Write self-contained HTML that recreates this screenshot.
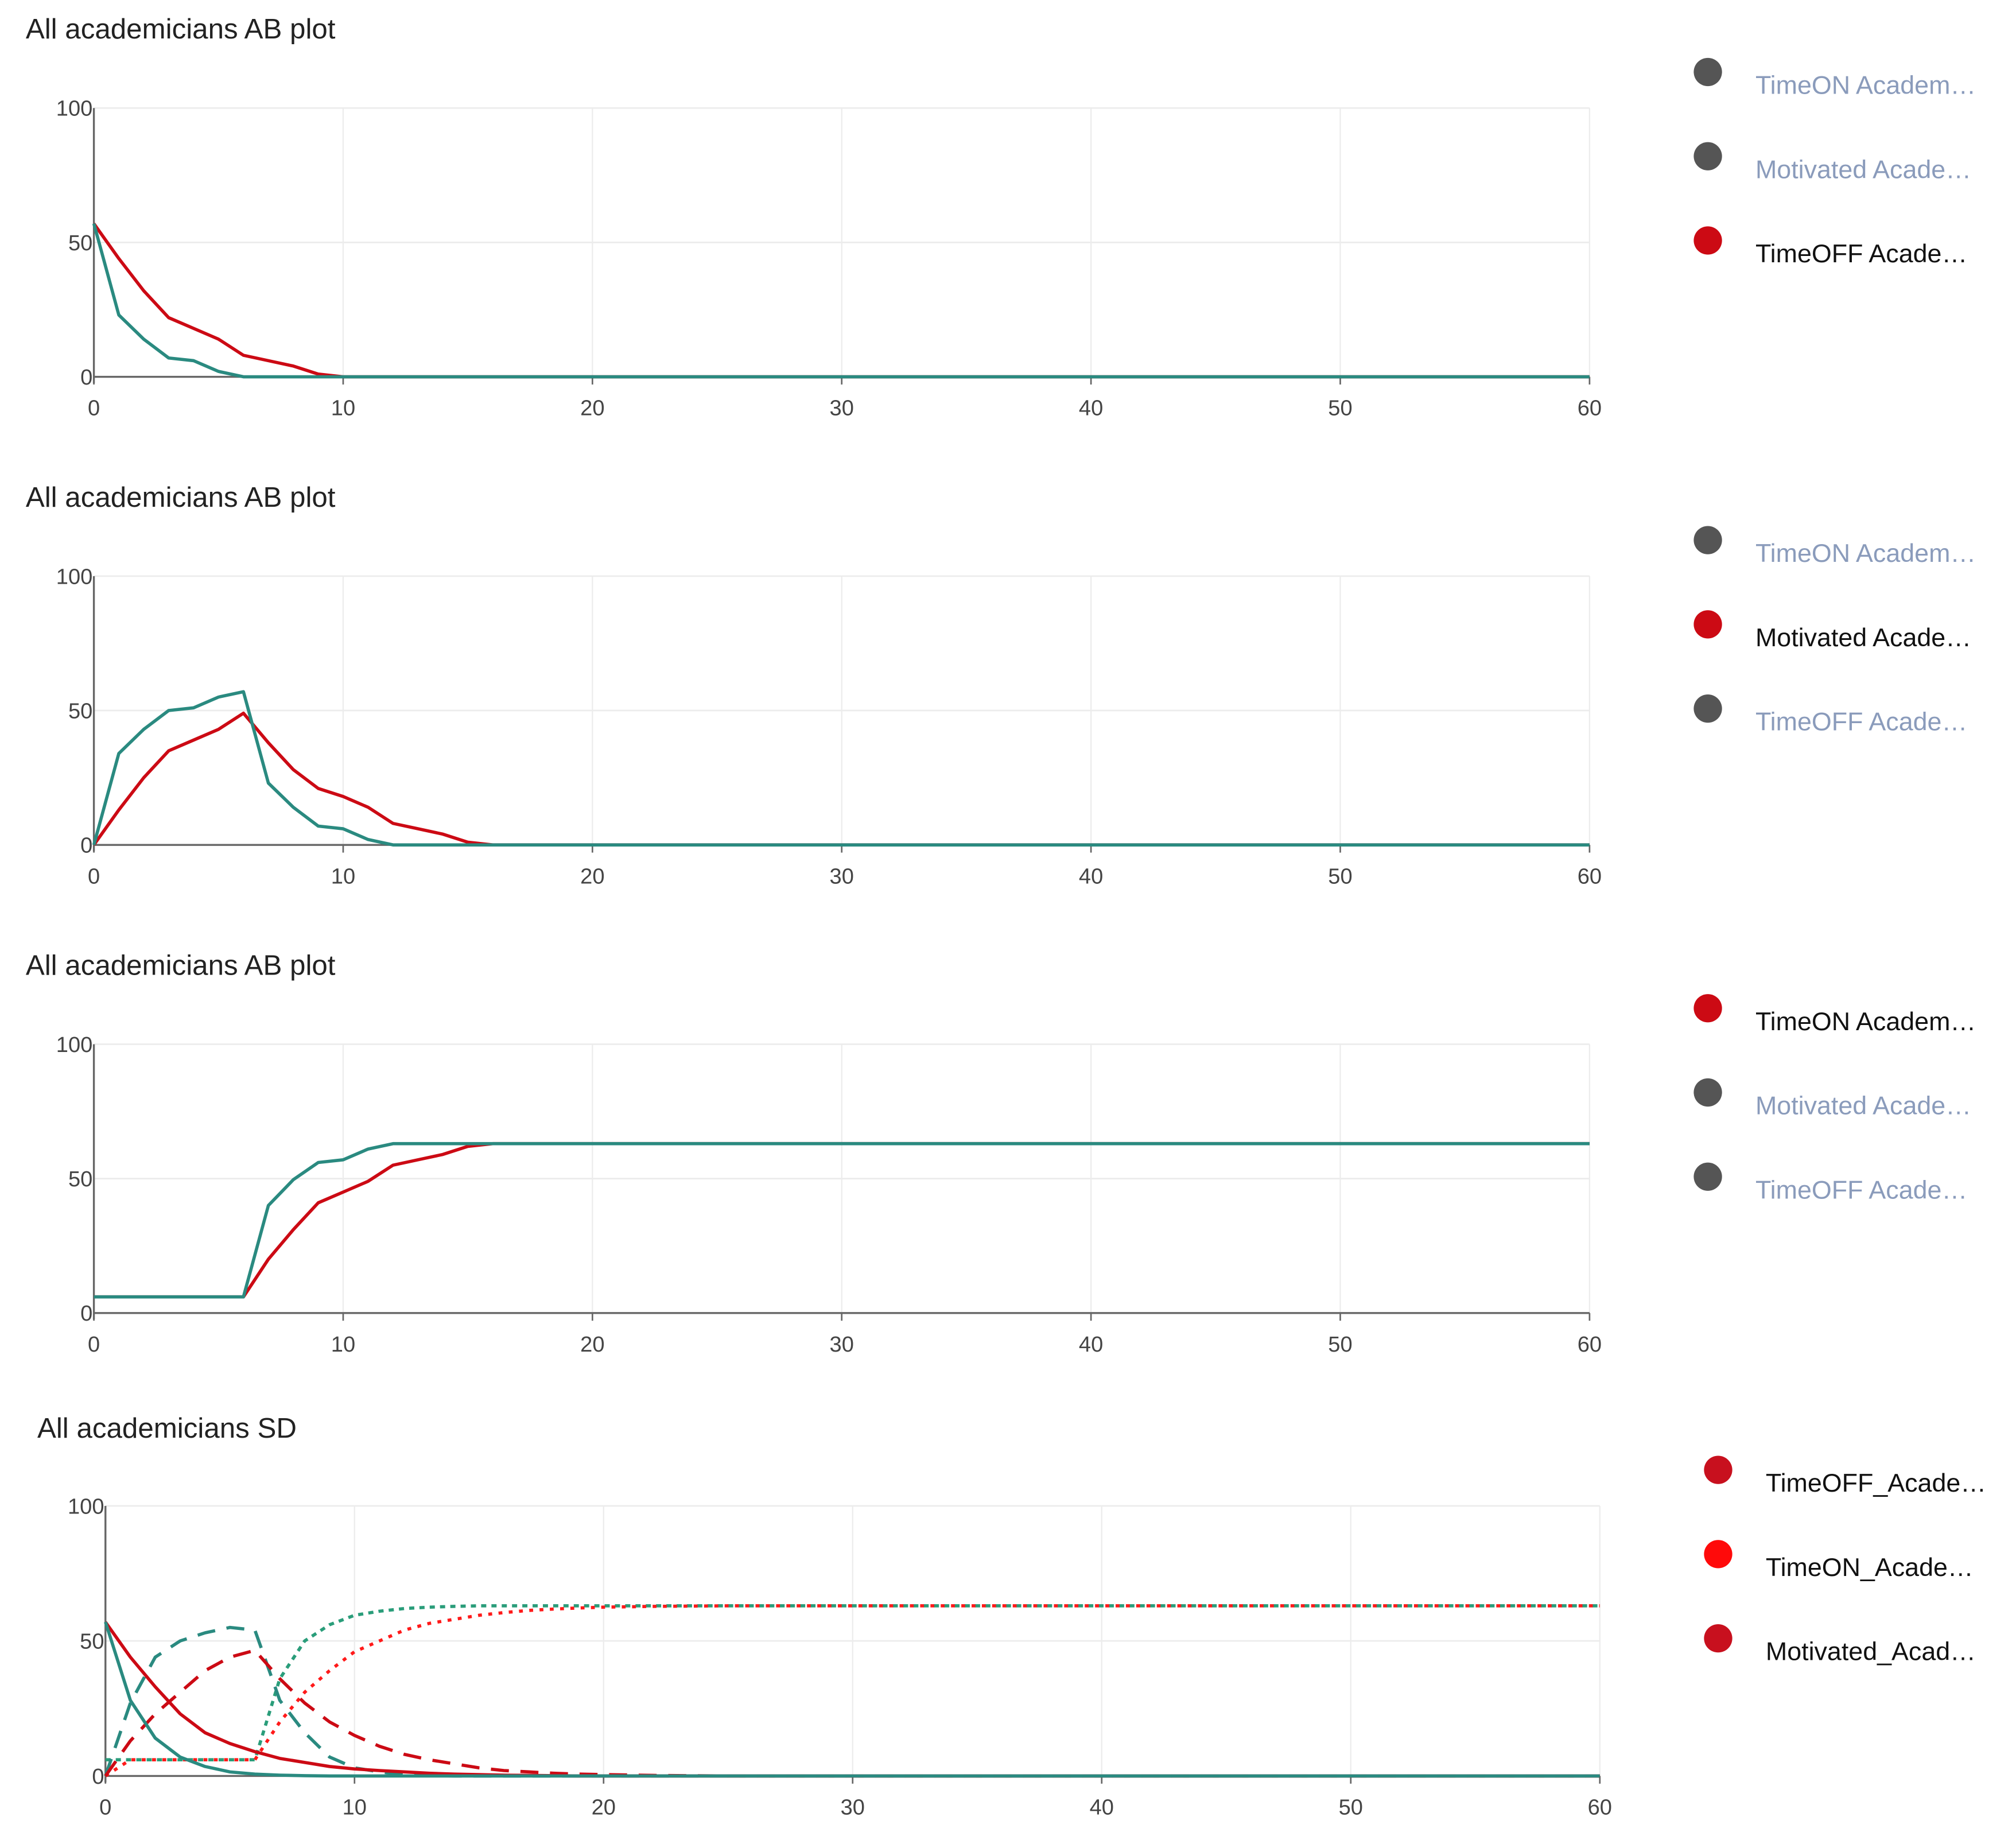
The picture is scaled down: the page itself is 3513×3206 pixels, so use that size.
<!DOCTYPE html>
<html><head><meta charset="utf-8"><style>
html,body{margin:0;padding:0;background:#fff;}
svg{display:block;font-family:"Liberation Sans",sans-serif;}
</style></head><body>
<svg id="root" width="3513" height="3206" viewBox="0 0 1567.6 1430.8" preserveAspectRatio="none" xmlns="http://www.w3.org/2000/svg"></svg>
<script>
// ---------- data ----------
const xTicks = [0,10,20,30,40,50,60];
const yTicks = [0,50,100];
const times = [0,1,2,3,4,5,6,7,8,9,10,11,12,13,14,15,16,17,18,19,20,22,25,60];

// chart 1
const c1Red  = [57,44,32,22,18,14,8,6,4,1,0,0,0,0,0,0,0,0,0,0,0,0,0,0];
const c1Teal = [57,23,14,7,6,2,0,0,0,0,0,0,0,0,0,0,0,0,0,0,0,0,0,0];
// chart 2
const c2Teal = [0,34,43,50,51,55,57,23,14,7,6,2,0,0,0,0,0,0,0,0,0,0,0,0];
const c2Red  = [0,13,25,35,39,43,49,38,28,21,18,14,8,6,4,1,0,0,0,0,0,0,0,0];
// chart 3
const c3Teal = [6,6,6,6,6,6,6,40,49.6,56,57,61,63,63,63,63,63,63,63,63,63,63,63,63];
const c3Red  = [6,6,6,6,6,6,6,20,31,41,45,49,55,57,59,62,63,63,63,63,63,63,63,63];
// chart 4 (SD)
const sdTealSolid  = [57,28,14,7,3.5,1.5,0.7,0.3,0.1,0,0,0,0,0,0,0,0,0,0,0,0,0,0,0];
const sdRedSolid   = [57,44,33,23,16,12,9,6.5,5,3.5,2.6,2,1.5,1,0.7,0.5,0.3,0.2,0.1,0,0,0,0,0];
const sdTealDash   = [0,27,44,50,53,55,54,28,16,7,3,1.5,0.5,0.2,0,0,0,0,0,0,0,0,0,0];
const sdRedDash    = [0,13,23,31,39,44,46.5,36,27,20,15,11,8,6,4.5,3,2,1.5,1,0.7,0.5,0.2,0,0];
const sdTealDot    = [6,6,6,6,6,6,6,36,50,56,59.5,61,62,62.5,62.8,63,63,63,63,63,63,63,63,63];
const sdRedDot     = [0,6,6,6,6,6,6,20,31,39,46,50,54,56.5,58,59.5,60.5,61.3,61.8,62.2,62.5,62.8,63,63];

// ---------- drawing ----------
const NS = "http://www.w3.org/2000/svg";
const root = document.getElementById('root');
function mk(tag, attrs, parent){
  const e = document.createElementNS(NS, tag);
  for (const k in attrs) e.setAttribute(k, attrs[k]);
  (parent||root).appendChild(e);
  return e;
}
const TEAL = "#2a8a80", RED = "#cc0a14", TEALDOT = "#2a9d7a", BRIGHT = "#ff1a1a";

function chart(cfg){
  const g = mk('g', {});
  
  
  const x0 = cfg.x0, x1 = cfg.x1, yb = cfg.yb, yt = cfg.yt;
  const sx = v => x0 + (x1 - x0) * v / 60;
  const sy = v => yb - (yb - yt) * v / 100;

  const title = mk('text', {x: cfg.tx, y: cfg.ty, 'font-size': 22, fill: '#222'}, g);
  title.textContent = cfg.title;
  
  

  xTicks.forEach(t => {
    if (t === 0) return;
    mk('line', {x1: sx(t), x2: sx(t), y1: yt, y2: yb, stroke: '#ececec', 'stroke-width': 1}, g);
  });
  yTicks.forEach(t => {
    if (t === 0) return;
    mk('line', {x1: x0, x2: x1, y1: sy(t), y2: sy(t), stroke: '#ececec', 'stroke-width': 1.2}, g);
  });
  const ya = mk('line', {x1: x0, x2: x0, y1: yt, y2: yb + 5, stroke: '#666', 'stroke-width': 1.5}, g);
  
  
  const xa = mk('line', {x1: x0, x2: x1, y1: yb, y2: yb, stroke: '#666', 'stroke-width': 1.5}, g);
  
  
  xTicks.forEach(t => {
    mk('line', {x1: sx(t), x2: sx(t), y1: yb, y2: yb + 6, stroke: '#666', 'stroke-width': 1.2}, g);
    const l = mk('text', {x: sx(t), y: yb + 30, 'font-size': 17, fill: '#444', 'text-anchor': 'middle'}, g);
    l.textContent = t;
    
    
  });
  yTicks.forEach(t => {
    const l = mk('text', {x: x0 - 1, y: sy(t) + 6, 'font-size': 17, fill: '#444', 'text-anchor': 'end'}, g);
    l.textContent = t;
    
    
  });
  cfg.series.forEach(s => {
    const d = times.map((t, i) => (i ? 'L' : 'M') + sx(t).toFixed(2) + ',' + sy(s.vals[i]).toFixed(2)).join(' ');
    const p = mk('path', {d: d, fill: 'none', stroke: s.color, 'stroke-width': 2.5, 'stroke-linejoin': 'round'}, g);
    if (s.dash) p.setAttribute('stroke-dasharray', s.dash);
    
    
  });
  cfg.legend.forEach((it, i) => {
    const lg = mk('g', {}, g);
    
    
    const cy = cfg.ly + i * 65.5;
    mk('circle', {cx: cfg.lx, cy: cy, r: 11, fill: it.c}, lg);
    const tx = mk('text', {x: cfg.lx + 37, y: cy + 17, 'font-size': 20, fill: it.t}, lg);
    tx.textContent = it.label;
  });
}

const GREY = '#555', FADE = '#8a9bbb';
const offs = [0, 364, 728];
const data12 = [
  [{vals: c1Red, color: RED, name: 'timeoff-red-line'}, {vals: c1Teal, color: TEAL, name: 'timeoff-teal-line'}],
  [{vals: c2Red, color: RED, name: 'motivated-red-line'}, {vals: c2Teal, color: TEAL, name: 'motivated-teal-line'}],
  [{vals: c3Red, color: RED, name: 'timeon-red-line'}, {vals: c3Teal, color: TEAL, name: 'timeon-teal-line'}]
];
const active = [2, 1, 0];
const labels = ['TimeON Academ\u2026', 'Motivated Acade\u2026', 'TimeOFF Acade\u2026'];
offs.forEach((o, k) => {
  chart({
    name: 'ab-plot-' + (k + 1), title: 'All academicians AB plot',
    tx: 20, ty: 30 + o, x0: 73, x1: 1236, yb: 293 + o, yt: 84 + o,
    series: data12[k],
    lx: 1328, ly: 56 + o,
    legend: labels.map((l, i) => ({label: l, c: i === active[k] ? RED : GREY, t: i === active[k] ? '#111' : FADE}))
  });
});
chart({
  name: 'sd-plot', title: 'All academicians SD',
  tx: 29, ty: 1118, x0: 82, x1: 1244, yb: 1381, yt: 1171,
  series: [
    {vals: sdTealDot, color: TEALDOT, dash: '4,4', name: 'timeon-teal-dotted'},
    {vals: sdRedDot, color: BRIGHT, dash: '3,5', name: 'timeon-red-dotted'},
    {vals: sdTealDash, color: TEAL, dash: '14,9', name: 'motivated-teal-dashed'},
    {vals: sdRedDash, color: RED, dash: '14,9', name: 'motivated-red-dashed'},
    {vals: sdRedSolid, color: RED, name: 'timeoff-red-solid'},
    {vals: sdTealSolid, color: TEAL, name: 'timeoff-teal-solid'}
  ],
  lx: 1336, ly: 1143,
  legend: [
    {label: 'TimeOFF_Acade\u2026', c: '#c8101e', t: '#111'},
    {label: 'TimeON_Acade\u2026', c: '#ff0a0a', t: '#111'},
    {label: 'Motivated_Acad\u2026', c: '#c8101e', t: '#111'}
  ]
});
</script>
</body></html>
